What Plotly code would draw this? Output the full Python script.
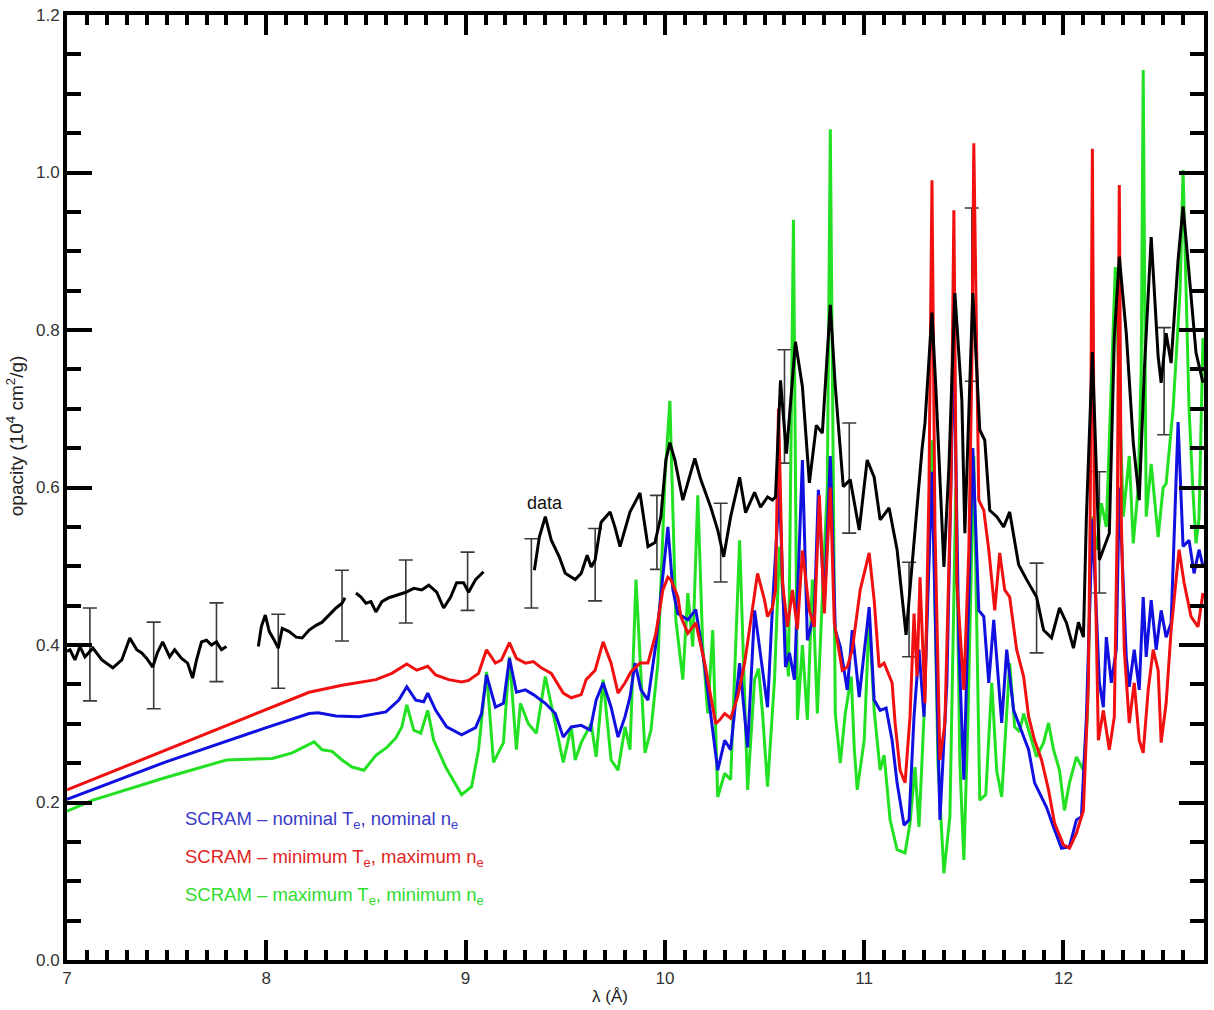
import plotly.graph_objects as go

# ---- measured opacity (data), gaps between detector segments marked by None ----
data_wl = [
    7.00, 7.015, 7.04, 7.065, 7.09, 7.13, 7.175, 7.23, 7.275, 7.315, 7.35, 7.375, 7.40, 7.43,
    7.455, 7.48, 7.515, 7.54, 7.575, 7.605, 7.63, 7.65, 7.675, 7.70, 7.725, 7.75, 7.775, 7.80,
    None,
    7.96, 7.975, 7.995, 8.015, 8.04, 8.06, 8.08, 8.115, 8.15, 8.18, 8.215, 8.25, 8.28, 8.315,
    8.35, 8.38, 8.395,
    None,
    8.45, 8.475, 8.50, 8.525, 8.55, 8.58, 8.615, 8.65, 8.70, 8.74, 8.78, 8.815, 8.855, 8.89,
    8.925, 8.955, 8.99, 9.015, 9.05, 9.09,
    None,
    9.345, 9.37, 9.40, 9.43, 9.47, 9.50, 9.55, 9.58, 9.61, 9.63, 9.65, 9.68, 9.725, 9.75,
    9.775, 9.825, 9.875, 9.915, 9.95, 9.98, 10.005, 10.025, 10.05, 10.09, 10.15, 10.18, 10.23,
    10.265, 10.295, 10.33, 10.375, 10.405, 10.45, 10.48, 10.515, 10.54, 10.555, 10.58, 10.61,
    10.655, 10.69, 10.725, 10.76, 10.79, 10.83, 10.855, 10.895, 10.93, 10.975, 11.015, 11.05,
    11.08, 11.125, 11.165, 11.21, 11.25, 11.29, 11.305, 11.34, 11.36, 11.40, 11.425, 11.455,
    11.49, 11.505, 11.545, 11.58, 11.605, 11.63, 11.665, 11.70, 11.73, 11.775, 11.815, 11.865,
    11.90, 11.94, 11.98, 12.015, 12.05, 12.075, 12.10, 12.115, 12.145, 12.18, 12.23, 12.255,
    12.28, 12.315, 12.35, 12.38, 12.405, 12.44, 12.475, 12.49, 12.515, 12.54, 12.575, 12.60,
    12.63, 12.665, 12.70,
]
data_op = [
    0.392, 0.394, 0.381, 0.398, 0.385, 0.396, 0.381, 0.371, 0.381, 0.409, 0.394, 0.390, 0.383, 0.372,
    0.391, 0.404, 0.385, 0.394, 0.383, 0.377, 0.358, 0.381, 0.404, 0.406, 0.400, 0.404, 0.394, 0.398,
    None,
    0.398, 0.423, 0.438, 0.417, 0.406, 0.396, 0.421, 0.417, 0.410, 0.409, 0.419, 0.425, 0.429, 0.438,
    0.447, 0.453, 0.460,
    None,
    0.466, 0.461, 0.453, 0.455, 0.442, 0.455, 0.460, 0.463, 0.467, 0.472, 0.470, 0.476, 0.467, 0.447,
    0.461, 0.479, 0.479, 0.467, 0.483, 0.493,
    None,
    0.495, 0.537, 0.563, 0.533, 0.512, 0.491, 0.483, 0.491, 0.514, 0.499, 0.508, 0.556, 0.569, 0.549,
    0.525, 0.569, 0.593, 0.525, 0.530, 0.563, 0.635, 0.657, 0.635, 0.584, 0.637, 0.610, 0.575,
    0.546, 0.512, 0.563, 0.613, 0.568, 0.594, 0.575, 0.588, 0.584, 0.588, 0.736, 0.643,
    0.785, 0.728, 0.606, 0.679, 0.669, 0.832, 0.728, 0.601, 0.610, 0.546, 0.635, 0.613,
    0.559, 0.574, 0.521, 0.413, 0.533, 0.648, 0.682, 0.822, 0.724, 0.499, 0.626, 0.847,
    0.711, 0.542, 0.847, 0.673, 0.660, 0.571, 0.563, 0.550, 0.569, 0.502, 0.483, 0.461,
    0.419, 0.409, 0.447, 0.428, 0.396, 0.429, 0.410, 0.563, 0.772, 0.508, 0.542, 0.790,
    0.893, 0.796, 0.657, 0.584, 0.745, 0.918, 0.766, 0.733, 0.796, 0.758, 0.889, 0.957,
    0.872, 0.771, 0.733,
]

# ---- error bars on the measurement ----
err_wl = [7.115, 7.435, 7.75, 8.06, 8.38, 8.70, 9.01, 9.33, 9.65, 9.96, 10.28, 10.60,
          10.925, 11.225, 11.54, 11.865, 12.18, 12.505]
err_op = [0.388, 0.374, 0.4035, 0.392, 0.450, 0.468, 0.481, 0.491, 0.502, 0.543, 0.530, 0.703,
          0.612, 0.445, 0.845, 0.447, 0.543, 0.735]
err_half = [0.059, 0.055, 0.050, 0.047, 0.045, 0.040, 0.037, 0.044, 0.046, 0.047, 0.050, 0.072,
            0.070, 0.060, 0.110, 0.057, 0.077, 0.068]

# ---- SCRAM: nominal Te, nominal ne ----
nom_wl = [
    7.00, 7.50, 8.00, 8.215, 8.26, 8.35, 8.465, 8.60, 8.665, 8.705, 8.75, 8.79, 8.81, 8.85,
    8.905, 8.98, 9.05, 9.08, 9.105, 9.15, 9.19, 9.22, 9.255, 9.30, 9.34, 9.40, 9.45, 9.49,
    9.53, 9.58, 9.625, 9.655, 9.69, 9.73, 9.765, 9.80, 9.825, 9.85, 9.88, 9.915, 9.955, 9.99,
    10.015, 10.04, 10.065, 10.115, 10.155, 10.20, 10.23, 10.265, 10.30, 10.33, 10.375, 10.415,
    10.45, 10.49, 10.515, 10.54, 10.575, 10.605, 10.625, 10.65, 10.69, 10.715, 10.75, 10.77,
    10.80, 10.83, 10.855, 10.88, 10.915, 10.94, 10.975, 11.025, 11.05, 11.08, 11.11, 11.14,
    11.165, 11.20, 11.225, 11.25, 11.275, 11.30, 11.34, 11.38, 11.415, 11.45, 11.475, 11.50,
    11.545, 11.575, 11.60, 11.625, 11.65, 11.69, 11.715, 11.75, 11.775, 11.80, 11.825, 11.855,
    11.88, 11.915, 11.95, 11.99, 12.03, 12.065, 12.09, 12.115, 12.145, 12.18, 12.20, 12.215,
    12.24, 12.265, 12.28, 12.315, 12.33, 12.355, 12.38, 12.40, 12.415, 12.44, 12.465, 12.49,
    12.515, 12.54, 12.575, 12.60, 12.63, 12.655, 12.68, 12.70,
]
nom_op = [
    0.204, 0.252, 0.295, 0.313, 0.314, 0.310, 0.309, 0.315, 0.330, 0.347, 0.330, 0.328, 0.339, 0.317,
    0.296, 0.286, 0.295, 0.313, 0.362, 0.321, 0.326, 0.383, 0.340, 0.343, 0.337, 0.326, 0.313, 0.283,
    0.296, 0.298, 0.292, 0.330, 0.352, 0.321, 0.283, 0.309, 0.334, 0.377, 0.343, 0.330, 0.402, 0.491,
    0.550, 0.470, 0.440, 0.432, 0.445, 0.372, 0.313, 0.241, 0.279, 0.267, 0.377, 0.270,
    0.444, 0.364, 0.321, 0.450, 0.600, 0.372, 0.390, 0.356, 0.635, 0.406, 0.440, 0.597,
    0.450, 0.640, 0.419, 0.398, 0.343, 0.419, 0.334, 0.448, 0.330, 0.317, 0.320, 0.279,
    0.225, 0.171, 0.178, 0.309, 0.394, 0.309, 0.620, 0.178, 0.352, 0.790, 0.400, 0.229,
    0.650, 0.444, 0.436, 0.352, 0.432, 0.301, 0.394, 0.317, 0.301, 0.283, 0.267, 0.225,
    0.212, 0.194, 0.169, 0.142, 0.144, 0.178, 0.182, 0.309, 0.560, 0.352, 0.321, 0.410,
    0.352, 0.394, 0.600, 0.385, 0.347, 0.394, 0.343, 0.461, 0.385, 0.457, 0.394, 0.444,
    0.410, 0.428, 0.683, 0.525, 0.533, 0.491, 0.521, 0.500,
]

# ---- SCRAM: minimum Te, maximum ne ----
lo_wl = [
    7.00, 7.50, 8.00, 8.215, 8.38, 8.55, 8.63, 8.705, 8.755, 8.81, 8.85, 8.915, 8.98, 9.015,
    9.065, 9.105, 9.15, 9.18, 9.22, 9.255, 9.30, 9.34, 9.38, 9.43, 9.49, 9.53, 9.58, 9.605,
    9.65, 9.69, 9.73, 9.765, 9.80, 9.83, 9.875, 9.915, 9.955, 9.99, 10.015, 10.03, 10.065,
    10.08, 10.115, 10.155, 10.20, 10.23, 10.255, 10.275, 10.30, 10.33, 10.365, 10.40, 10.43,
    10.465, 10.50, 10.515, 10.54, 10.555, 10.57, 10.59, 10.615, 10.64, 10.665, 10.69, 10.725,
    10.75, 10.775, 10.80, 10.83, 10.85, 10.89, 10.915, 10.94, 10.98, 11.025, 11.05, 11.075,
    11.10, 11.14, 11.155, 11.18, 11.205, 11.23, 11.25, 11.265, 11.28, 11.305, 11.325, 11.34,
    11.355, 11.38, 11.405, 11.435, 11.45, 11.465, 11.50, 11.525, 11.54, 11.55, 11.575, 11.60,
    11.625, 11.655, 11.68, 11.705, 11.73, 11.765, 11.80, 11.825, 11.855, 11.89, 11.925, 11.955,
    12.00, 12.03, 12.065, 12.10, 12.125, 12.135, 12.145, 12.155, 12.175, 12.20, 12.23, 12.255,
    12.27, 12.28, 12.29, 12.305, 12.33, 12.355, 12.38, 12.40, 12.425, 12.45, 12.475, 12.49,
    12.515, 12.54, 12.58, 12.605, 12.64, 12.675, 12.70,
]
lo_op = [
    0.216, 0.267, 0.318, 0.340, 0.349, 0.356, 0.364, 0.376, 0.368, 0.373, 0.362, 0.356, 0.353, 0.355,
    0.364, 0.394, 0.377, 0.381, 0.403, 0.383, 0.377, 0.379, 0.371, 0.364, 0.339, 0.333, 0.337, 0.356,
    0.368, 0.404, 0.377, 0.339, 0.352, 0.366, 0.377, 0.377, 0.415, 0.470, 0.486, 0.483, 0.461,
    0.436, 0.415, 0.428, 0.377, 0.334, 0.300, 0.305, 0.313, 0.307, 0.334, 0.377, 0.428,
    0.491, 0.457, 0.436, 0.448, 0.470, 0.700, 0.480, 0.423, 0.470, 0.420, 0.520, 0.444,
    0.423, 0.590, 0.440, 0.600, 0.428, 0.368, 0.372, 0.394, 0.470, 0.517, 0.457, 0.372,
    0.377, 0.352, 0.301, 0.241, 0.225, 0.309, 0.440, 0.360, 0.486, 0.326, 0.600, 0.990,
    0.550, 0.254, 0.301, 0.600, 0.952, 0.479, 0.343, 0.521, 0.750, 1.037, 0.584, 0.571,
    0.521, 0.444, 0.517, 0.470, 0.461, 0.394, 0.360, 0.309, 0.279, 0.254, 0.216, 0.174,
    0.146, 0.142, 0.161, 0.190, 0.352, 0.600, 1.030, 0.550, 0.279, 0.317, 0.267, 0.309,
    0.560, 0.984, 0.560, 0.394, 0.301, 0.352, 0.279, 0.263, 0.343, 0.394, 0.368, 0.276,
    0.326, 0.419, 0.521, 0.479, 0.436, 0.423, 0.466,
]

# ---- SCRAM: maximum Te, minimum ne ----
hi_wl = [
    7.00, 7.13, 7.50, 7.80, 8.03, 8.13, 8.24, 8.28, 8.33, 8.38, 8.43, 8.49, 8.55, 8.605,
    8.65, 8.68, 8.705, 8.74, 8.775, 8.81, 8.84, 8.90, 8.98, 9.03, 9.065, 9.105, 9.14, 9.19,
    9.22, 9.255, 9.275, 9.315, 9.355, 9.40, 9.45, 9.49, 9.53, 9.55, 9.58, 9.63, 9.655, 9.69,
    9.73, 9.765, 9.80, 9.825, 9.855, 9.90, 9.93, 9.965, 10.00, 10.025, 10.055, 10.09, 10.115,
    10.14, 10.165, 10.19, 10.215, 10.24, 10.265, 10.30, 10.33, 10.375, 10.415, 10.45, 10.47,
    10.49, 10.515, 10.55, 10.575, 10.60, 10.62, 10.645, 10.665, 10.69, 10.715, 10.74, 10.765,
    10.79, 10.815, 10.83, 10.845, 10.855, 10.88, 10.905, 10.935, 10.95, 10.965, 11.00, 11.025,
    11.05, 11.08, 11.10, 11.13, 11.165, 11.205, 11.23, 11.255, 11.275, 11.30, 11.34, 11.37,
    11.40, 11.43, 11.46, 11.48, 11.50, 11.52, 11.55, 11.58, 11.61, 11.64, 11.665, 11.69,
    11.73, 11.755, 11.78, 11.80, 11.83, 11.865, 11.90, 11.925, 11.95, 11.98, 12.005, 12.03,
    12.065, 12.10, 12.12, 12.14, 12.165, 12.19, 12.215, 12.26, 12.30, 12.33, 12.35, 12.375,
    12.39, 12.40, 12.41, 12.415, 12.44, 12.475, 12.50, 12.515, 12.55, 12.585, 12.60, 12.615,
    12.63, 12.65, 12.665, 12.68, 12.70,
]
hi_op = [
    0.189, 0.203, 0.232, 0.254, 0.256, 0.263, 0.277, 0.267, 0.265, 0.254, 0.245, 0.241, 0.260, 0.270,
    0.282, 0.296, 0.324, 0.292, 0.288, 0.317, 0.279, 0.245, 0.210, 0.220, 0.267, 0.366, 0.251, 0.276,
    0.385, 0.267, 0.326, 0.300, 0.288, 0.360, 0.300, 0.251, 0.296, 0.254, 0.276, 0.300, 0.258, 0.356,
    0.254, 0.241, 0.296, 0.267, 0.483, 0.263, 0.292, 0.377, 0.610, 0.710, 0.432, 0.356, 0.466,
    0.398, 0.590, 0.398, 0.313, 0.419, 0.207, 0.237, 0.229, 0.533, 0.216, 0.356, 0.370,
    0.313, 0.220, 0.356, 0.525, 0.440, 0.360, 0.940, 0.305, 0.400, 0.305, 0.483, 0.313,
    0.461, 0.600, 1.055, 0.600, 0.313, 0.250, 0.313, 0.360, 0.270, 0.216, 0.279, 0.436,
    0.317, 0.241, 0.260, 0.178, 0.140, 0.136, 0.174, 0.245, 0.169, 0.309, 0.660, 0.250,
    0.110, 0.182, 0.600, 0.250, 0.127, 0.300, 0.640, 0.203, 0.210, 0.352, 0.240, 0.207,
    0.377, 0.296, 0.290, 0.313, 0.288, 0.258, 0.276, 0.301, 0.267, 0.241, 0.190, 0.225,
    0.258, 0.241, 0.309, 0.563, 0.521, 0.580, 0.550, 0.880, 0.563, 0.640, 0.529, 0.600,
    0.750, 1.130, 0.750, 0.563, 0.630, 0.537, 0.600, 0.605, 0.700, 0.850, 1.003, 0.850,
    0.700, 0.593, 0.529, 0.560, 0.790,
]

# ---- figure ----
fig = go.Figure()

fig.add_trace(go.Scatter(
    x=err_wl, y=err_op, mode="markers",
    marker=dict(size=1, color="rgba(0,0,0,0)"),
    error_y=dict(type="data", array=err_half, visible=True,
                 color="#3a3a3a", thickness=1.6, width=7),
    hoverinfo="skip", showlegend=False,
))

model_traces = [
    (hi_wl, hi_op, "#22e022"),
    (nom_wl, nom_op, "#1010e0"),
    (lo_wl, lo_op, "#f01010"),
]
for wl, op, col in model_traces:
    fig.add_trace(go.Scatter(x=wl, y=op, mode="lines",
                             line=dict(color=col, width=3),
                             showlegend=False))

fig.add_trace(go.Scatter(x=data_wl, y=data_op, mode="lines",
                         line=dict(color="#000000", width=3),
                         connectgaps=False, showlegend=False))

font_family = "Liberation Sans, Arial, sans-serif"

legend_labels = [
    ("SCRAM – nominal T<sub>e</sub>, nominal n<sub>e</sub>", "#3a3ac8", 0.178),
    ("SCRAM – minimum T<sub>e</sub>, maximum n<sub>e</sub>", "#e02424", 0.130),
    ("SCRAM – maximum T<sub>e</sub>, minimum n<sub>e</sub>", "#30dc30", 0.081),
]
for text, col, ypos in legend_labels:
    fig.add_annotation(x=7.58, y=ypos, xref="x", yref="y", text=text,
                       showarrow=False, xanchor="left", yanchor="middle",
                       font=dict(family=font_family, size=18.5, color=col))

fig.add_annotation(x=9.40, y=0.58, xref="x", yref="y", text="data",
                   showarrow=False, xanchor="center", yanchor="middle",
                   font=dict(family=font_family, size=18, color="#111111"))

fig.add_annotation(x=0.478, y=-0.039, xref="paper", yref="paper", text="λ (Å)",
                   showarrow=False, xanchor="center", yanchor="middle",
                   font=dict(family=font_family, size=17, color="#222222"))
fig.add_annotation(x=-0.046, y=0.555, xref="paper", yref="paper",
                   text="opacity (10<sup>4</sup> cm<sup>2</sup>/g)",
                   showarrow=False, textangle=-90, xanchor="center", yanchor="middle",
                   font=dict(family=font_family, size=19, color="#222222"))

axis_common = dict(
    showgrid=False, zeroline=False, showline=True, linecolor="black", linewidth=4,
    mirror="ticks", ticks="inside", tickcolor="black", tickwidth=4,
    tickfont=dict(family=font_family, size=17, color="#333333"),
)

fig.update_xaxes(range=[7.0, 12.705], tick0=8, dtick=1, ticklen=20,
                 minor=dict(dtick=0.1, ticklen=10, tickwidth=4, ticks="inside", tickcolor="black"),
                 **axis_common)
fig.update_yaxes(range=[0.0, 1.2], tick0=0, dtick=0.2, tickformat=".1f", ticklen=25,
                 minor=dict(dtick=0.05, ticklen=14, tickwidth=4, ticks="inside", tickcolor="black"),
                 **axis_common)

fig.update_layout(
    width=1214, height=1010,
    margin=dict(l=67, r=6, t=15, b=50),
    plot_bgcolor="white", paper_bgcolor="white",
    showlegend=False,
)

fig.write_html("out.html")
